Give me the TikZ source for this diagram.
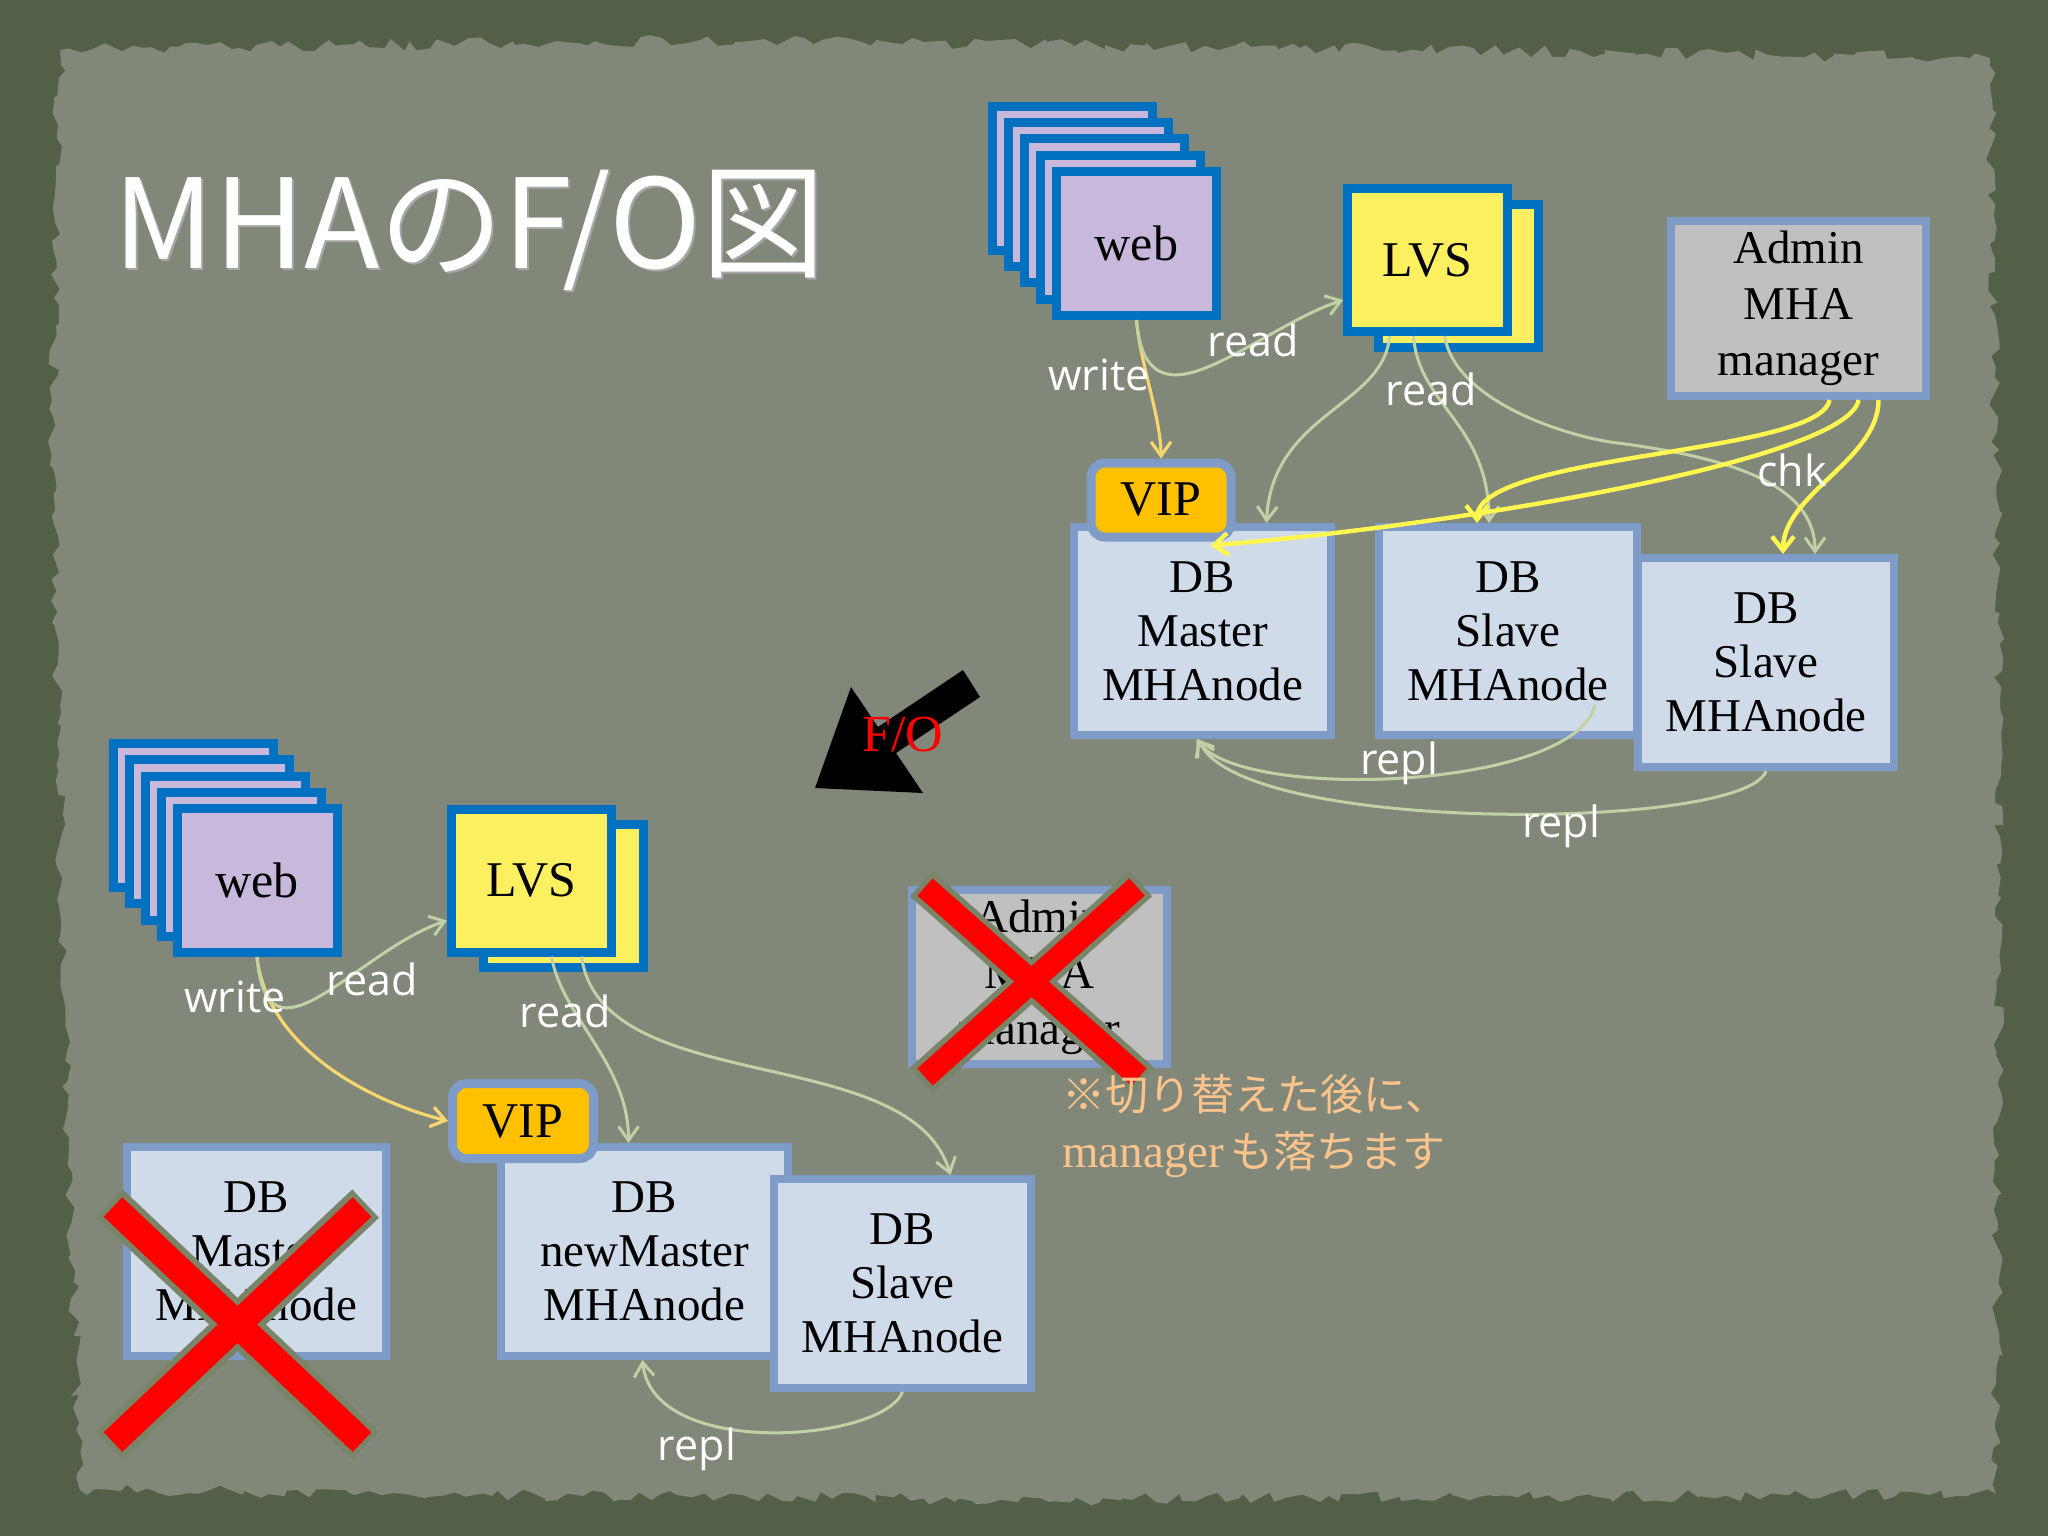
\documentclass[tikz,border=0pt]{standalone}
\usepackage{fontspec}
\setmainfont{Liberation Serif}
\newfontfamily\lblfont{Open Sans}
\newfontfamily\cjkfont{Noto Sans CJK JP}
\usetikzlibrary{arrows.meta,calc,decorations.pathmorphing}
\definecolor{cblue}{RGB}{0,112,192}
\definecolor{clav}{RGB}{199,184,220}
\definecolor{cyel}{RGB}{252,240,96}
\definecolor{csteel}{RGB}{127,156,200}
\definecolor{cdb}{RGB}{207,219,233}
\definecolor{cgrey}{RGB}{192,192,192}
\definecolor{cvip}{RGB}{255,192,0}
\definecolor{cread}{RGB}{194,208,166}
\definecolor{cwrite}{RGB}{245,214,112}
\definecolor{cchk}{RGB}{255,246,80}
\definecolor{cnote}{RGB}{250,196,140}
\definecolor{couter}{RGB}{84,95,72}
\definecolor{cpanel}{RGB}{129,135,121}
\definecolor{cxout}{RGB}{121,132,104}
\begin{document}
\begin{tikzpicture}[x=0.5pt,y=-0.5pt,
  webcard/.style={draw=cblue,fill=clav,line width=4.5pt,minimum width=80pt,minimum height=72pt,inner sep=0pt,font=\fontsize{25}{30}\selectfont},
  lvscard/.style={draw=cblue,fill=cyel,line width=4.5pt,minimum width=80pt,minimum height=71.5pt,inner sep=0pt,font=\fontsize{25}{30}\selectfont},
  dbbox/.style={draw=csteel,fill=cdb,line width=4pt,inner sep=0pt,align=center,minimum height=104.5pt,font=\fontsize{23.5}{27}\selectfont},
  admbox/.style={draw=csteel,fill=cgrey,line width=4pt,inner sep=0pt,align=center,minimum width=127.5pt,minimum height=87.5pt,font=\fontsize{23.5}{28}\selectfont},
  vipbox/.style={draw=csteel,fill=cvip,line width=4.5pt,rounded corners=7pt,inner sep=0pt,minimum width=70pt,minimum height=37pt,font=\fontsize{25}{30}\selectfont},
  readarr/.style={draw=cread,line width=1.5pt,-{Straight Barb[length=7pt,width=10pt]}},
  writearr/.style={draw=cwrite,line width=1.6pt,-{Straight Barb[length=7pt,width=10pt]}},
  chkarr/.style={draw=cchk,line width=2.2pt,-{Straight Barb[length=7pt,width=11pt]}},
  lbl/.style={text=white,font=\lblfont\fontsize{21.5}{26}\selectfont,inner sep=0pt},
  xout/.style={draw=cxout,line width=19.5pt,shorten <=-2.5pt,shorten >=-2.5pt},
  xred/.style={draw=red,line width=13.5pt},
  xouts/.style={draw=cxout,line width=17pt,shorten <=-2.5pt,shorten >=-2.5pt},
  xreds/.style={draw=red,line width=11.5pt}
]
\useasboundingbox (0,0) rectangle (2048,1536);
% background
\fill[couter] (0,0) rectangle (2048,1536);
\pgfmathsetseed{7}
\fill[cpanel,decorate,decoration={random steps,segment length=5pt,amplitude=3pt}]
  (60,50) -- (700,40) -- (1300,48) -- (1990,58) -- (2000,700) -- (1996,1494)
  -- (1000,1500) -- (80,1490) -- (64,1000) -- (52,400) -- cycle;

% title
\node[anchor=base west,text=black!35,font=\cjkfont\fontsize{62}{70}\selectfont,inner sep=0pt] (titlesh) at (115,270) {MHAのF/O図};
\node[anchor=base west,text=white,font=\cjkfont\fontsize{62}{70}\selectfont,inner sep=0pt] (title) at (113,268) {MHAのF/O図};

% ---------- top diagram ----------
\node[webcard] (tw1) at (1072.5,178.3) {};
\node[webcard] (tw2) at (1088.5,194.6) {};
\node[webcard] (tw3) at (1104.5,210.9) {};
\node[webcard] (tw4) at (1120.5,227.2) {};
\node[webcard] (tw5) at (1136.5,243.5) {web};
\node[lvscard] (tlvsb) at (1458.5,276) {};
\node[lvscard] (tlvs) at (1427.5,260) {LVS};
\node[admbox] (tadm) at (1798.5,308.5) {Admin\\MHA\\manager};
\node[dbbox,minimum width=128.5pt,minimum height=104pt] (tm) at (1202.5,631) {DB\\Master\\MHAnode};
\node[vipbox] (tvip) at (1161,500) {VIP};
\node[dbbox,minimum width=129pt,minimum height=104pt] (ts1) at (1508,631) {DB\\Slave\\MHAnode};
\node[dbbox,minimum width=128pt] (ts2) at (1766,662.5) {DB\\Slave\\MHAnode};

\draw[writearr] (tw5.south) .. controls +(3,40) and +(0,-40) .. (tvip.north);
\draw[readarr] (tw5.south) .. controls +(10,120) and +(-90,30) .. ($(tlvs.west)+(0,40)$);
\draw[readarr] ($(tlvs.south)+(-38,0)$) .. controls +(-5,70) and +(5,-110) .. ($(tm.north)+(64,0)$);
\draw[readarr] ($(tlvs.south)+(-14,0)$) .. controls +(5,70) and +(0,-100) .. ($(ts1.north)+(-19,0)$);
\draw[readarr] ($(tlvs.south)+(17,0)$) .. controls +(10,60) and +(-60,-10) .. (1610,442)
   .. controls +(120,15) and +(0,-70) .. ($(ts2.north)+(49,0)$);
\draw[chkarr] ($(tadm.south)+(31,0)$) .. controls +(-10,55) and +(0,-70) .. ($(ts1.north)+(-31,0)$);
\draw[chkarr] ($(tadm.south)+(60,0)$) .. controls +(-10,60) and +(244,-20) .. ($(tvip.south east)+(-25,4)$);
\draw[chkarr] ($(tadm.south)+(80,0)$) .. controls +(0,60) and +(0,-60) .. ($(ts2.north)+(17,0)$);
\draw[readarr] ($(ts1.south)+(87,-34)$) .. controls +(-20,85) and +(44,63) .. ($(tm.south)+(-6,0)$);
\draw[readarr] (ts2.south) .. controls +(-20,60) and +(42,96) .. ($(tm.south)+(-4,0)$);

\node[lbl] (tlw) at (1099,375) {write};
\node[lbl] (tlr1) at (1253,340) {read};
\node[lbl] (tlr2) at (1431,389) {read};
\node[lbl] (tlc) at (1792,470) {chk};
\node[lbl] (tlp1) at (1399,763) {repl};
\node[lbl] (tlp2) at (1561,826) {repl};

% ---------- F/O arrow ----------
\fill[black] (963,670) -- (980,697) -- (896,753) -- (923,793) -- (815,788) -- (851,687) -- (878,727) -- cycle;
\node[text=red,font=\fontsize{26}{30}\selectfont,inner sep=0pt] (fo) at (903,735) {F/O};

% ---------- bottom diagram ----------
\node[webcard] (bw1) at (193.8,815.7) {};
\node[webcard] (bw2) at (209.6,831.9) {};
\node[webcard] (bw3) at (225.4,848.1) {};
\node[webcard] (bw4) at (241.2,864.3) {};
\node[webcard] (bw5) at (257,880.5) {web};
\node[lvscard] (blvsb) at (563.5,895.5) {};
\node[lvscard] (blvs) at (531.5,880.5) {LVS};
\node[admbox,minimum height=87pt] (badm) at (1039.5,977) {Admin\\MHA\\manager};
\node[dbbox,minimum width=129.5pt] (bm) at (256.5,1251.5) {DB\\Master\\MHAnode};
\node[dbbox,minimum width=143.5pt] (bnm) at (644.5,1251.5) {DB\\newMaster\\MHAnode};
\node[vipbox,minimum width=70.5pt,minimum height=37.5pt] (bvip) at (523,1121) {VIP};
\node[dbbox,minimum width=128.5pt] (bsl) at (902.5,1283.5) {DB\\Slave\\MHAnode};

\draw[writearr] (bw5.south) .. controls +(10,90) and +(-80,-20) .. (bvip.west);
\draw[readarr] (bw5.south) .. controls +(10,120) and +(-90,30) .. ($(blvs.west)+(0,40)$);
\draw[readarr] ($(blvs.south)+(20,0)$) .. controls +(10,60) and +(0,-80) .. ($(bnm.north)+(-16,0)$);
\draw[readarr] ($(blvs.south)+(50,0)$) .. controls +(20,143) and +(-40,-135) .. ($(bsl.north)+(48,0)$);
\draw[readarr] (bsl.south) .. controls +(-20,50) and +(10,100) .. ($(bnm.south)+(-2,0)$);

\node[lbl] (blw) at (235,997) {write};
\node[lbl] (blr1) at (372,979) {read};
\node[lbl] (blr2) at (565,1011) {read};
\node[lbl] (blp) at (697,1449) {repl};

% red crosses
\draw[xout] (113,1207) -- (362,1442);
\draw[xout] (362,1207) -- (113,1442);
\draw[xred] (113,1207) -- (362,1442);
\draw[xred] (362,1207) -- (113,1442);
\draw[xouts] (925,887) -- (1139,1077);
\draw[xouts] (1137,887) -- (925,1077);
\draw[xreds] (925,887) -- (1139,1077);
\draw[xreds] (1137,887) -- (925,1077);

% note
\node[anchor=base west,text=cnote,font=\cjkfont\fontsize{21.5}{26}\selectfont,inner sep=0pt] (note1) at (1062,1110) {※切り替えた後に、};
\node[anchor=base west,text=cnote,font=\fontsize{23.5}{26}\selectfont,inner sep=0pt] (note2) at (1062,1167) {manager\hspace{3pt}{\cjkfont\fontsize{21.5}{26}\selectfont も落ちます}};
\end{tikzpicture}
\end{document}
